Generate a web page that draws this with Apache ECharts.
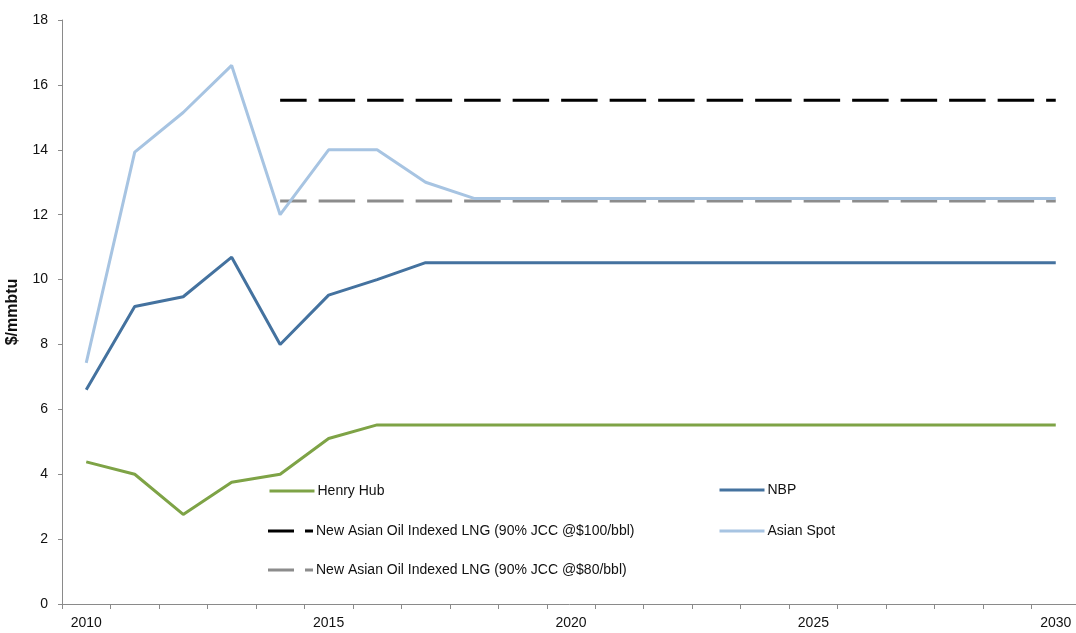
<!DOCTYPE html>
<html>
<head>
<meta charset="utf-8">
<script src="https://cdn.jsdelivr.net/npm/echarts@6/dist/echarts.min.js"></script>
<style>
  html, body { margin: 0; padding: 0; background: #fff; }
  #chart { width: 1076px; height: 633px; }
</style>
</head>
<body>
<div id="chart"></div>
<script>
// Gas price outlook, $/mmbtu, 2010–2030
const years = ['2010','2011','2012','2013','2014','2015','2016','2017','2018','2019','2020',
               '2021','2022','2023','2024','2025','2026','2027','2028','2029','2030'];

const henryHub   = [4.38, 4.0, 2.76, 3.75, 4.0, 5.1, 5.52, 5.52, 5.52, 5.52, 5.52,
                    5.52, 5.52, 5.52, 5.52, 5.52, 5.52, 5.52, 5.52, 5.52, 5.52];
const nbp        = [6.6, 9.17, 9.47, 10.69, 8.0, 9.52, 10.0, 10.52, 10.52, 10.52, 10.52,
                    10.52, 10.52, 10.52, 10.52, 10.52, 10.52, 10.52, 10.52, 10.52, 10.52];
const asianSpot  = [7.43, 13.93, 15.15, 16.6, 12.0, 14.0, 14.0, 13.0, 12.5, 12.5, 12.5,
                    12.5, 12.5, 12.5, 12.5, 12.5, 12.5, 12.5, 12.5, 12.5, 12.5];
const jcc100     = [null, null, null, null, 15.53, 15.53, 15.53, 15.53, 15.53, 15.53, 15.53,
                    15.53, 15.53, 15.53, 15.53, 15.53, 15.53, 15.53, 15.53, 15.53, 15.53];
const jcc80      = [null, null, null, null, 12.42, 12.42, 12.42, 12.42, 12.42, 12.42, 12.42,
                    12.42, 12.42, 12.42, 12.42, 12.42, 12.42, 12.42, 12.42, 12.42, 12.42];

const yTicks = { min: 0, max: 18, step: 2 };

const names = {
  hh: 'Henry Hub',
  nbp: 'NBP',
  j100: 'New Asian Oil Indexed LNG (90% JCC @$100/bbl)',
  spot: 'Asian Spot',
  j80: 'New Asian Oil Indexed LNG (90% JCC @$80/bbl)'
};

const FONT = "'Liberation Sans', Arial, sans-serif";
const AXIS_GREY = '#8a8a8a';
const DASH = [36.5, 12];
// legend swatch for the dashed series: long dash, gap, short dash
const DASH_ICON = 'path://M0,0H26V3H0Z M37,0H45V3H37Z';

// one legend block per entry, laid out as two columns
function legendAt(name, left, top, dashColor) {
  const base = {
    data: [name],
    left: left, top: top,
    orient: 'horizontal',
    itemWidth: 45, itemHeight: 14,
    padding: 0,
    itemStyle: { opacity: 0, borderWidth: 0 },
    lineStyle: { width: 3 },
    textStyle: { fontFamily: FONT, fontSize: 14, color: '#111', padding: [0, 0, 0, -2] },
    selectedMode: false
  };
  if (dashColor) {
    base.icon = DASH_ICON;
    base.itemHeight = 3;
    base.itemStyle = { opacity: 1, color: dashColor, borderWidth: 0 };
  }
  return base;
}

const chart = echarts.init(document.getElementById('chart'), null, { renderer: 'canvas' });

chart.setOption({
  animation: false,
  backgroundColor: '#fff',
  grid: { left: 62, right: -4, top: 20, bottom: 29, containLabel: false, outerBoundsMode: 'none' },
  legend: [
    legendAt(names.hh, 268, 484, null),
    legendAt(names.nbp, 718, 483, null),
    legendAt(names.j100, 268, 524, '#000000'),
    legendAt(names.spot, 718, 524, null),
    legendAt(names.j80, 268, 563, '#8c8c8c')
  ],
  xAxis: {
    type: 'category',
    data: years,
    boundaryGap: true,
    axisLine: { show: true, lineStyle: { color: AXIS_GREY, width: 1 } },
    axisTick: { show: true, interval: 0, length: 5, lineStyle: { color: AXIS_GREY } },
    axisLabel: { interval: 4, margin: 12, fontFamily: FONT, fontSize: 14, color: '#111' },
    splitLine: { show: false }
  },
  yAxis: {
    type: 'value',
    min: yTicks.min, max: yTicks.max, interval: yTicks.step,
    name: '$/mmbtu',
    nameLocation: 'middle',
    nameRotate: 90,
    nameGap: 41,
    nameTextStyle: { fontFamily: FONT, fontSize: 16, fontWeight: 'bold', color: '#111' },
    axisLine: { show: true, lineStyle: { color: AXIS_GREY, width: 1 } },
    axisTick: { show: true, length: 4, lineStyle: { color: AXIS_GREY } },
    axisLabel: { margin: 14, fontFamily: FONT, fontSize: 14, color: '#111' },
    splitLine: { show: false }
  },
  series: [
    {
      name: names.hh, type: 'line', data: henryHub, symbol: 'none',
      lineStyle: { color: '#7ea346', width: 3 }, itemStyle: { color: '#7ea346' }, z: 3
    },
    {
      name: names.nbp, type: 'line', data: nbp, symbol: 'none',
      lineStyle: { color: '#44729f', width: 3 }, itemStyle: { color: '#44729f' }, z: 3
    },
    {
      name: names.j100, type: 'line', data: jcc100, symbol: 'none',
      lineStyle: { color: '#000000', width: 3, type: DASH, dashOffset: 10 },
      itemStyle: { color: '#000000' }, z: 2
    },
    {
      name: names.spot, type: 'line', data: asianSpot, symbol: 'none',
      lineStyle: { color: '#a7c4e2', width: 3 }, itemStyle: { color: '#a7c4e2' }, z: 4
    },
    {
      name: names.j80, type: 'line', data: jcc80, symbol: 'none',
      lineStyle: { color: '#8c8c8c', width: 3, type: DASH, dashOffset: 10 },
      itemStyle: { color: '#8c8c8c' }, z: 2
    }
  ]
});
</script>
</body>
</html>
